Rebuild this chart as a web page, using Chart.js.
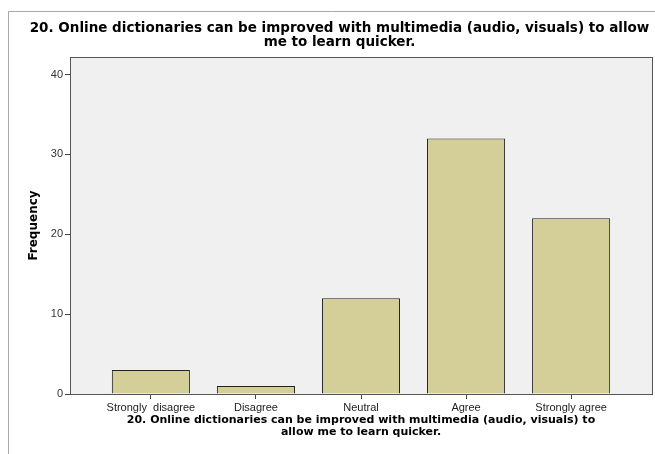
<!DOCTYPE html>
<html>
<head>
<meta charset="utf-8">
<script src="https://cdn.jsdelivr.net/npm/chart.js@4/dist/chart.umd.min.js"></script>
<style>
  body { margin: 0; background: #fff; }
  #chart { display: block; }
</style>
</head>
<body>
<canvas id="chart" width="655" height="454"></canvas>
<script>
const categories = ['Strongly  disagree', 'Disagree', 'Neutral', 'Agree', 'Strongly agree'];
const frequencies = [3, 1, 12, 32, 22];
const yTicks = [0, 10, 20, 30, 40];
const titleLines = ['20. Online dictionaries can be improved with multimedia (audio, visuals) to allow', 'me to learn quicker.'];
const xTitleLines = ['20. Online dictionaries can be improved with multimedia (audio, visuals) to', 'allow me to learn quicker.'];

// gray frame round the output + plot box background
const framePlugin = {
    id: 'frame',
    beforeDraw(chart) {
        const ctx = chart.ctx;
        ctx.save();
        ctx.fillStyle = '#fff';
        ctx.fillRect(0, 0, chart.width, chart.height);
        ctx.strokeStyle = '#a8a8a8';
        ctx.lineWidth = 1;
        ctx.beginPath();
        ctx.moveTo(8.5, chart.height);
        ctx.lineTo(8.5, 11.5);
        ctx.lineTo(chart.width, 11.5);
        ctx.stroke();
        ctx.restore();
    },
    beforeDatasetsDraw(chart) {
        const { ctx, chartArea: a } = chart;
        ctx.save();
        ctx.fillStyle = '#f0f0f0';
        ctx.fillRect(a.left, a.top, a.right - a.left, a.bottom - a.top);
        ctx.restore();
    },
    afterDatasetsDraw(chart) {
        const { ctx, chartArea: a } = chart;
        ctx.save();
        ctx.strokeStyle = '#555';
        ctx.lineWidth = 1;
        ctx.strokeRect(Math.round(a.left) + 0.5, Math.round(a.top) + 0.5,
            Math.round(a.right - a.left), Math.round(a.bottom - a.top));
        ctx.restore();
    }
};

new Chart(document.getElementById('chart'), {
    type: 'bar',
    data: {
        datasets: [{
            data: frequencies.map((v, i) => ({ x: i, y: v })),
            backgroundColor: '#d4cf98',
            borderColor: '#222',
            borderWidth: 1,
            categoryPercentage: 1,
            barPercentage: 0.743
        }]
    },
    options: {
        responsive: false,
        animation: false,
        devicePixelRatio: 1,
        layout: { padding: { left: 27, right: 3, top: 5, bottom: 16 } },
        plugins: {
            legend: { display: false },
            tooltip: { enabled: false },
            title: {
                display: true,
                text: titleLines,
                color: '#000',
                font: { family: 'DejaVu Sans', size: 13.5, weight: 'bold', lineHeight: 1.0 },
                padding: { top: 17, bottom: 8 }
            }
        },
        scales: {
            x: {
                type: 'linear',
                min: -0.77,
                max: 4.77,
                offset: false,
                afterBuildTicks: axis => { axis.ticks = categories.map((_, i) => ({ value: i })); },
                afterFit: axis => { axis.height = 44; },
                grid: { offset: false, drawOnChartArea: false, drawTicks: true, tickLength: 5, color: '#444' },
                border: { display: true, color: '#444' },
                ticks: {
                    autoSkip: false,
                    maxRotation: 0,
                    padding: 2,
                    color: '#222',
                    font: { family: 'Liberation Sans', size: 11 },
                    callback: v => categories[v]
                },
                title: {
                    display: true,
                    text: xTitleLines,
                    color: '#000',
                    font: { family: 'DejaVu Sans', size: 11, weight: 'bold', lineHeight: 1.1 },
                    padding: { top: 2, bottom: 0 }
                }
            },
            y: {
                min: 0,
                max: 42.2,
                afterBuildTicks: axis => { axis.ticks = yTicks.map(v => ({ value: v })); },
                afterFit: axis => { axis.width = 43; },
                grid: { drawOnChartArea: false, drawTicks: true, tickLength: 5, color: '#444' },
                border: { display: true, color: '#444' },
                ticks: {
                    padding: 2,
                    color: '#333',
                    font: { family: 'Liberation Sans', size: 11 }
                },
                title: {
                    display: true,
                    text: 'Frequency',
                    color: '#000',
                    font: { family: 'DejaVu Sans', size: 12, weight: 'bold' },
                    padding: { top: 0, bottom: 4 }
                }
            }
        }
    },
    plugins: [framePlugin]
});
</script>
</body>
</html>
